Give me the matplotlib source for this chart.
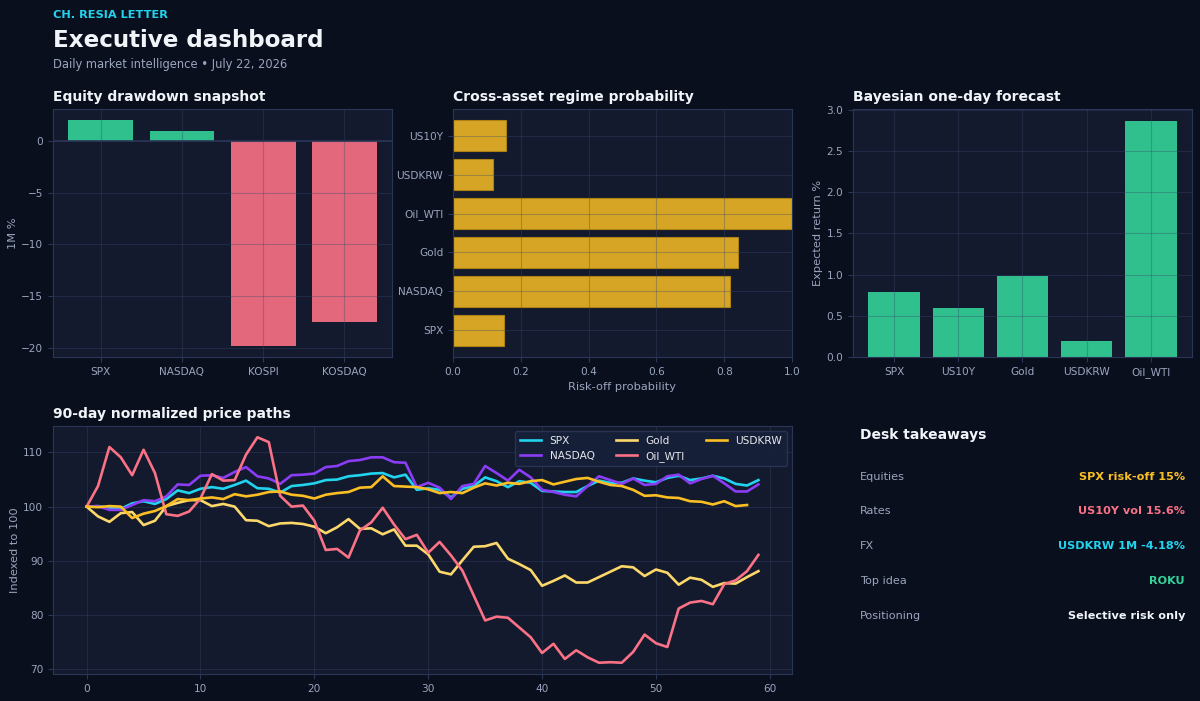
import numpy as np
import matplotlib
matplotlib.use("Agg")
import matplotlib.pyplot as plt

# colours
BG = "#0A0F1E"
PANEL = "#131A2E"
SPINE = "#2A3655"
GRID = "#3A4A6B"
MUTED = "#9AA5BD"
WHITE = "#F1F5F9"
CYAN = "#22D3EE"
PURPLE = "#8B3DF6"
GOLD = "#FCD86A"
AMBER = "#FBBF24"
ROSE = "#FB7185"
GREEN = "#34D399"

# equity drawdown (1M %)
eq_names = ["SPX", "NASDAQ", "KOSPI", "KOSDAQ"]
eq_1m = [2.0, 1.0, -19.8, -17.5]

# regime probability
reg_names = ["SPX", "NASDAQ", "Gold", "Oil_WTI", "USDKRW", "US10Y"]
reg_prob = [0.151, 0.817, 0.842, 1.0, 0.118, 0.157]

# bayesian forecast
fc_names = ["SPX", "US10Y", "Gold", "USDKRW", "Oil_WTI"]
fc_ret = [0.79, 0.596, 0.977, 0.199, 2.866]

# normalized price paths
spx = [100, 100.1, 99.7, 99.6, 100.6, 101.0, 100.5, 101.4, 103.0, 102.5,
       103.3, 103.6, 103.3, 104.0, 104.8, 103.4, 103.3, 102.6, 103.8, 104.0,
       104.3, 104.9, 105.0, 105.6, 105.8, 106.1, 106.2, 105.4, 105.9, 103.1,
       103.4, 103.1, 101.7, 103.3, 103.8, 105.4, 104.7, 103.6, 104.7, 104.4,
       102.9, 102.8, 102.7, 102.7, 103.8, 104.8, 104.4, 104.4, 105.2, 104.8,
       104.5, 105.3, 105.7, 104.9, 105.2, 105.7, 105.2, 104.2, 103.9, 104.9]
nasdaq = [100, 100.1, 99.4, 99.4, 100.3, 101.2, 101.0, 101.9, 104.1, 104.0,
          105.7, 105.8, 105.3, 106.4, 107.3, 105.6, 105.2, 104.2, 105.8, 105.9,
          106.1, 107.3, 107.5, 108.4, 108.6, 109.1, 109.1, 108.2, 108.1, 103.6,
          104.4, 103.5, 101.4, 103.8, 104.2, 107.5, 106.2, 104.8, 106.8, 105.4,
          103.1, 102.7, 102.2, 101.9, 103.8, 105.6, 104.9, 104.2, 105.2, 104.0,
          104.2, 105.6, 105.9, 104.3, 105.1, 105.7, 104.3, 102.8, 102.8, 104.1]
gold = [100, 98.2, 97.2, 98.8, 99.0, 96.6, 97.4, 100.1, 100.7, 101.2,
        101.2, 100.1, 100.5, 100.0, 97.5, 97.4, 96.4, 96.9, 97.0, 96.8,
        96.3, 95.1, 96.2, 97.7, 95.9, 96.0, 94.9, 95.8, 92.8, 92.8,
        91.2, 88.0, 87.5, 90.1, 92.6, 92.7, 93.3, 90.4, 89.4, 88.3,
        85.4, 86.3, 87.3, 86.0, 86.0, 87.0, 88.0, 89.0, 88.8, 87.2,
        88.4, 87.8, 85.6, 86.9, 86.5, 85.2, 85.9, 85.8, 87.0, 88.1]
oil = [100, 103.8, 111.0, 109.1, 105.8, 110.5, 106.2, 98.6, 98.3, 99.1,
       101.5, 106.0, 104.8, 104.9, 109.6, 112.8, 111.9, 102.0, 100.0, 100.2,
       97.4, 92.0, 92.2, 90.6, 95.6, 97.1, 99.8, 96.7, 94.0, 94.8,
       91.5, 93.5, 91.0, 88.2, 83.6, 79.0, 79.7, 79.5, 77.7, 75.9,
       73.0, 74.7, 71.9, 73.5, 72.2, 71.2, 71.3, 71.2, 73.2, 76.4,
       74.8, 74.1, 81.2, 82.3, 82.6, 82.0, 85.7, 86.4, 88.1, 91.1]
usdkrw = [100, 99.9, 100.1, 100.0, 97.9, 98.7, 99.2, 100.1, 101.4, 101.2,
          101.5, 101.7, 101.4, 102.3, 101.9, 102.2, 102.7, 102.8, 102.2, 102.0,
          101.5, 102.2, 102.5, 102.7, 103.5, 103.6, 105.6, 103.8, 103.7, 103.6,
          103.2, 102.5, 102.7, 102.5, 103.5, 104.3, 103.9, 104.4, 104.2, 104.7,
          104.9, 104.1, 104.6, 105.1, 105.3, 104.6, 104.0, 103.8, 103.1, 102.0,
          102.1, 101.7, 101.6, 101.0, 100.9, 100.4, 101.0, 100.1, 100.3]

# takeaways
take_labels = ["Equities", "Rates", "FX", "Top idea", "Positioning"]
take_values = ["SPX risk-off 15%", "US10Y vol 15.6%", "USDKRW 1M -4.18%", "ROKU", "Selective risk only"]
take_colors = [AMBER, ROSE, CYAN, GREEN, WHITE]

plt.rcParams["font.family"] = "DejaVu Sans"
plt.rcParams["axes.edgecolor"] = SPINE
plt.rcParams["xtick.color"] = SPINE
plt.rcParams["ytick.color"] = SPINE
plt.rcParams["xtick.labelcolor"] = MUTED
plt.rcParams["ytick.labelcolor"] = MUTED
plt.rcParams["xtick.labelsize"] = 7.6
plt.rcParams["ytick.labelsize"] = 7.6


def style(ax, title):
    ax.set_facecolor(PANEL)
    for s in ax.spines.values():
        s.set_color(SPINE)
    ax.grid(True, color=GRID, linewidth=0.8, alpha=0.35)
    ax.set_title(title, loc="left", color=WHITE, fontsize=10, fontweight="bold", pad=6)


fig = plt.figure(figsize=(12, 7.01), dpi=100, facecolor=BG)

fig.text(0.0442, 0.979, "CH. RESIA LETTER", color=CYAN, fontsize=8.2, fontweight="bold", va="center")
fig.text(0.0442, 0.942, "Executive dashboard", color=WHITE, fontsize=16.6, fontweight="bold", va="center")
fig.text(0.0442, 0.908, "Daily market intelligence \u2022 July 22, 2026", color=MUTED, fontsize=8.3, va="center")

# equity drawdown
ax1 = fig.add_axes([0.0442, 0.4907, 0.2825, 0.3538])
style(ax1, "Equity drawdown snapshot")
cols = [GREEN if v >= 0 else ROSE for v in eq_1m]
ax1.bar(eq_names, eq_1m, color=cols, alpha=0.9, width=0.8)
ax1.axhline(0, color=SPINE, linewidth=1.2)
ax1.set_ylabel("1M %", color=MUTED, fontsize=8.2, labelpad=2)

# regime probability
ax2 = fig.add_axes([0.3775, 0.4907, 0.2825, 0.3538])
style(ax2, "Cross-asset regime probability")
ax2.barh(reg_names, reg_prob, color=AMBER, alpha=0.85, edgecolor="#B98A10", linewidth=0.8, height=0.8)
ax2.set_xlim(0, 1)
ax2.set_xlabel("Risk-off probability", color=MUTED, fontsize=8.2)

# forecast
ax3 = fig.add_axes([0.7108, 0.4907, 0.2825, 0.3538])
style(ax3, "Bayesian one-day forecast")
ax3.bar(fc_names, fc_ret, color=GREEN, alpha=0.9, width=0.8)
ax3.set_ylabel("Expected return %", color=MUTED, fontsize=8.2, labelpad=2.5)

# price paths
ax4 = fig.add_axes([0.0442, 0.0385, 0.6158, 0.3538])
style(ax4, "90-day normalized price paths")
series = [("SPX", spx, CYAN), ("NASDAQ", nasdaq, PURPLE), ("Gold", gold, GOLD),
          ("Oil_WTI", oil, ROSE), ("USDKRW", usdkrw, AMBER)]
for name, vals, c in series:
    ax4.plot(np.arange(len(vals)), vals, color=c, linewidth=1.9, label=name)
ax4.set_ylabel("Indexed to 100", color=MUTED, fontsize=8.2, labelpad=2)
leg = ax4.legend(loc="upper right", ncol=3, fontsize=7.6, frameon=True,
                 facecolor="#17203A", edgecolor=SPINE, labelcolor="#E5E7EB",
                 borderpad=0.45, labelspacing=0.45, handlelength=2.0, columnspacing=2.0)
leg.get_frame().set_alpha(0.9)

# takeaways
fig.text(0.7167, 0.380, "Desk takeaways", color=WHITE, fontsize=10, fontweight="bold", va="center")
row_y = [477, 511, 546, 581, 616]
for lab, val, c, py in zip(take_labels, take_values, take_colors, row_y):
    fig.text(0.7167, 1 - py / 701, lab, color=MUTED, fontsize=8.1, va="center")
    fig.text(0.9875, 1 - py / 701, val, color=c, fontsize=8.1, fontweight="bold", va="center", ha="right")

fig.savefig("out.png", dpi=100, facecolor=BG)
